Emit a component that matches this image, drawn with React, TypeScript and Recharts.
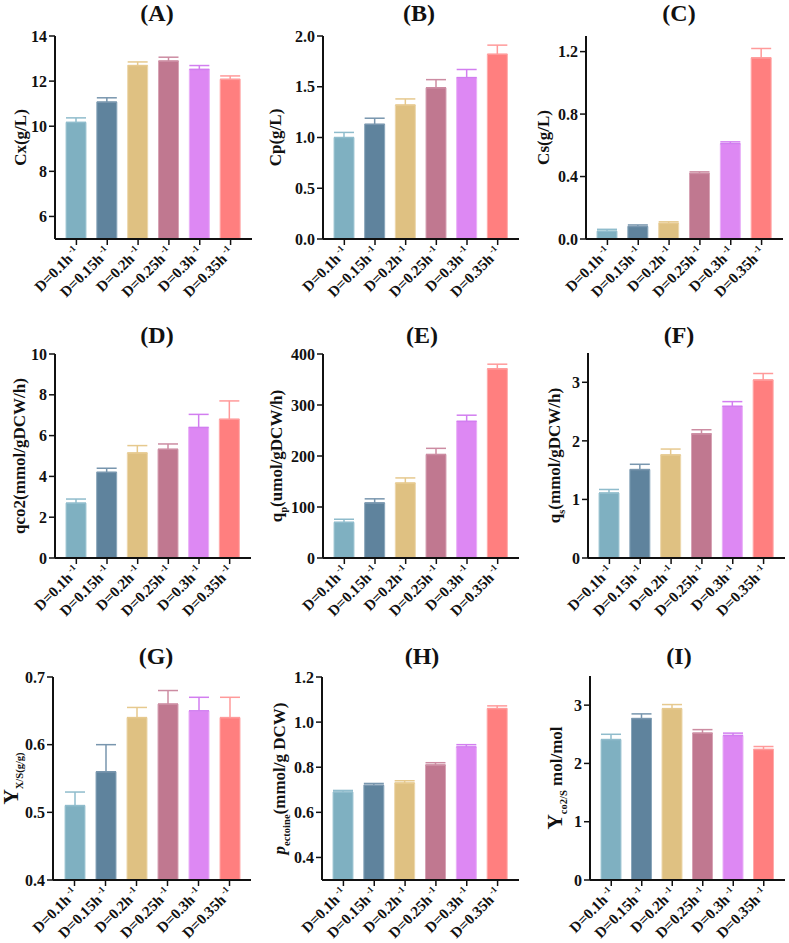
import React from 'react';
import { BarChart, Bar, XAxis, YAxis, Cell, ErrorBar } from 'recharts';

const FONT = '"Liberation Serif", "Times New Roman", serif';

// dilution rates (the "-1" exponent is drawn by the tick)
const categories = ['D=0.1h', 'D=0.15h', 'D=0.2h', 'D=0.25h', 'D=0.3h', 'D=0.35h'];

const cxValues = [10.17, 11.07, 12.69, 12.89, 12.52, 12.08];
const cxErrors = [0.2, 0.19, 0.16, 0.17, 0.17, 0.15];
const cpValues = [1.0, 1.13, 1.32, 1.49, 1.59, 1.82];
const cpErrors = [0.05, 0.06, 0.06, 0.08, 0.08, 0.09];
const csValues = [0.05, 0.08, 0.1, 0.42, 0.61, 1.16];
const csErrors = [0.012, 0.01, 0.01, 0.01, 0.012, 0.06];
const qco2Values = [2.69, 4.2, 5.15, 5.33, 6.4, 6.8];
const qco2Errors = [0.2, 0.2, 0.36, 0.26, 0.64, 0.9];
const qpValues = [70, 108, 147, 203, 268, 371];
const qpErrors = [6, 8, 10, 12, 12, 9];
const qsValues = [1.11, 1.51, 1.76, 2.12, 2.59, 3.04];
const qsErrors = [0.06, 0.09, 0.1, 0.07, 0.08, 0.11];
const yxsValues = [0.51, 0.56, 0.64, 0.66, 0.65, 0.64];
const yxsErrors = [0.02, 0.04, 0.015, 0.02, 0.02, 0.03];
const pectValues = [0.69, 0.72, 0.73, 0.81, 0.89, 1.06];
const pectErrors = [0.007, 0.008, 0.01, 0.01, 0.01, 0.012];
const yco2Values = [2.41, 2.77, 2.94, 2.52, 2.48, 2.24];
const yco2Errors = [0.09, 0.08, 0.07, 0.06, 0.04, 0.05];

const cxTicks = [6, 8, 10, 12, 14];
const cpTicks = [0, 0.5, 1, 1.5, 2];
const csTicks = [0, 0.4, 0.8, 1.2];
const qco2Ticks = [0, 2, 4, 6, 8, 10];
const qpTicks = [0, 100, 200, 300, 400];
const qsTicks = [0, 1, 2, 3];
const yxsTicks = [0.4, 0.5, 0.6, 0.7];
const pectTicks = [0.4, 0.6, 0.8, 1.0, 1.2];
const yco2Ticks = [0, 1, 2, 3];

const barColors = ['#7fb0c1', '#5f839d', '#dfc182', '#c07890', '#dd88f3', '#ff7f7f'];
const barEdges = ['#a6cad6', '#8aa6bb', '#ecd7ab', '#d7a3b5', '#e9b0f7', '#ffaaaa'];
const errColors = ['#8fbccc', '#7896ae', '#e6c98e', '#cc8ca2', '#d27ef0', '#ff9a9a'];

type Part = { t: string; sub?: boolean; italic?: boolean; big?: boolean };

const int = (v: number) => String(v);
const one = (v: number) => v.toFixed(1);

const panels = [
  { title: '(A)', values: cxValues, errors: cxErrors, domain: [5, 14], ticks: cxTicks, fmt: int,
    parts: [{ t: 'Cx(g/L)' }], axisX: 55, top: 36, bottom: 239, right: 252, labOff: 29, tx: 157, ty: 13 },
  { title: '(B)', values: cpValues, errors: cpErrors, domain: [0, 2], ticks: cpTicks, fmt: one,
    parts: [{ t: 'Cp(g/L)' }], axisX: 323, top: 36, bottom: 239, right: 519, labOff: 42, tx: 419, ty: 13 },
  { title: '(C)', values: csValues, errors: csErrors, domain: [0, 1.3], ticks: csTicks, fmt: one,
    parts: [{ t: 'Cs(g/L)' }], axisX: 586, top: 36, bottom: 239, right: 783, labOff: 37, tx: 679, ty: 13 },
  { title: '(D)', values: qco2Values, errors: qco2Errors, domain: [0, 10], ticks: qco2Ticks, fmt: int,
    parts: [{ t: 'qco2(mmol/gDCW/h)' }], axisX: 55, top: 354, bottom: 558, right: 251, labOff: 30, tx: 157, ty: 335 },
  { title: '(E)', values: qpValues, errors: qpErrors, domain: [0, 400], ticks: qpTicks, fmt: int,
    parts: [{ t: 'q' }, { t: 'p', sub: true }, { t: '(umol/gDCW/h)' }], axisX: 323, top: 354, bottom: 558, right: 519, labOff: 41, tx: 422, ty: 335 },
  { title: '(F)', values: qsValues, errors: qsErrors, domain: [0, 3.5], ticks: qsTicks, fmt: int,
    parts: [{ t: 'q' }, { t: 's', sub: true }, { t: '(mmol/gDCW/h)' }], axisX: 588, top: 353, bottom: 558, right: 785, labOff: 28, tx: 679, ty: 335 },
  { title: '(G)', values: yxsValues, errors: yxsErrors, domain: [0.4, 0.7], ticks: yxsTicks, fmt: one,
    parts: [{ t: 'Y', big: true }, { t: 'X/S(g/g)', sub: true }], axisX: 53, top: 677, bottom: 880, right: 251, labOff: 35, tx: 156, ty: 656 },
  { title: '(H)', values: pectValues, errors: pectErrors, domain: [0.3, 1.2], ticks: pectTicks, fmt: one,
    parts: [{ t: 'p', italic: true }, { t: 'ectoine', sub: true }, { t: '(mmol/g DCW)' }], axisX: 322, top: 677, bottom: 880, right: 519, labOff: 37, tx: 422, ty: 656 },
  { title: '(I)', values: yco2Values, errors: yco2Errors, domain: [0, 3.5], ticks: yco2Ticks, fmt: int,
    parts: [{ t: 'Y', big: true }, { t: 'co2/S', sub: true }, { t: ' mol/mol' }], axisX: 590, top: 676, bottom: 880, right: 785, labOff: 28, tx: 679, ty: 656 },
];

function DTick(props: any) {
  const { x, y, payload } = props;
  return (
    <g transform={`translate(${x + 4},${y + 6})`}>
      <text transform="rotate(-45)" textAnchor="end" fontFamily={FONT} fontWeight="bold" fontSize={15} fill="#111">
        {payload.value}
        <tspan dy={-6} fontSize={9}> -1</tspan>
      </text>
    </g>
  );
}

function YLabel({ lx, ly, parts, size }: { lx: number; ly: number; parts: Part[]; size: number }) {
  let shift = 0;
  return (
    <text x={lx} y={ly} transform={`rotate(-90 ${lx} ${ly})`} textAnchor="middle"
      fontFamily={FONT} fontWeight="bold" fontSize={size} fill="#111">
      {parts.map((p, i) => {
        const target = p.sub ? size * 0.3 : 0;
        const dy = target - shift;
        shift = target;
        return (
          <tspan key={i} dy={dy} fontSize={p.sub ? size * 0.62 : p.big ? size * 1.25 : size}
            fontStyle={p.italic ? 'italic' : undefined}>{p.t}</tspan>
        );
      })}
    </text>
  );
}

function Panel({ cfg }: { cfg: any }) {
  const yw = Math.min(70, cfg.axisX); // room left of the y axis for ticks and label
  const plotW = cfg.right - cfg.axisX;
  const plotH = cfg.bottom - cfg.top;
  const rows = categories.map((name, i) => {
    const row: any = { name, value: cfg.values[i] };
    row['e' + i] = [0, cfg.errors[i]];
    return row;
  });
  const axisStyle = { stroke: '#111', strokeWidth: 2 };
  const tickStyle = { stroke: '#111', strokeWidth: 1.5 };

  return (
    <>
      <div style={{ position: 'absolute', left: cfg.tx - 40, top: cfg.ty - 14, width: 80, lineHeight: '28px',
        textAlign: 'center', fontFamily: FONT, fontWeight: 'bold', fontSize: 24, color: '#111' }}>
        {cfg.title}
      </div>
      <div style={{ position: 'absolute', left: cfg.axisX - yw, top: cfg.top - 10 }}>
        <BarChart width={yw + plotW + 4} height={plotH + 72} data={rows}
          margin={{ top: 10, right: 4, bottom: 0, left: 0 }}>
          <XAxis dataKey="name" interval={0} padding={{ left: 6, right: 6 }} height={62}
            tick={<DTick />} axisLine={axisStyle} tickLine={tickStyle} tickSize={6} />
          <YAxis type="number" width={yw} domain={cfg.domain} ticks={cfg.ticks} tickFormatter={cfg.fmt}
            allowDataOverflow axisLine={axisStyle} tickLine={tickStyle} tickSize={6} tickMargin={2}
            tick={{ fontFamily: FONT, fontWeight: 'bold', fontSize: 16, fill: '#111' }}
            label={<YLabel lx={yw - cfg.labOff} ly={10 + plotH / 2} parts={cfg.parts} size={17} />} />
          <Bar dataKey="value" barSize={20} isAnimationActive={false}>
            {rows.map((r, i) => (
              <Cell key={`cell-${i}`} fill={barColors[i]} stroke={barEdges[i]} strokeWidth={1} />
            ))}
            {rows.map((r, i) => (
              <ErrorBar key={`err-${i}`} dataKey={'e' + i} width={10} stroke={errColors[i]}
                strokeWidth={1.5} isAnimationActive={false} />
            ))}
          </Bar>
        </BarChart>
      </div>
    </>
  );
}

export default function App() {
  return (
    <div style={{ position: 'absolute', left: 0, top: 0, width: 789, height: 943, background: '#fff', overflow: 'hidden' }}>
      {panels.map((p) => (
        <Panel key={p.title} cfg={p} />
      ))}
    </div>
  );
}
